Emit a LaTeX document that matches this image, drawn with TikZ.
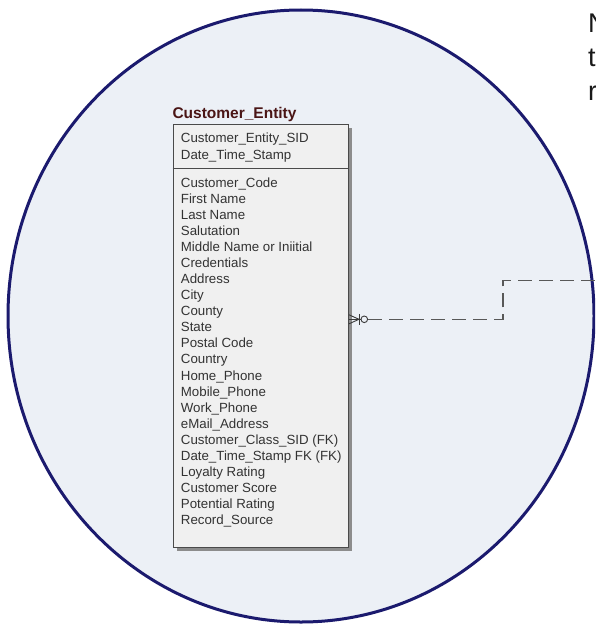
\documentclass[tikz,border=0pt]{standalone}
\usepackage{fontspec}
\setmainfont{Liberation Sans}
\usetikzlibrary{shadows}
\definecolor{bgblue}{HTML}{ECF0F6}
\definecolor{ringblue}{HTML}{1B1A6E}
\definecolor{boxfill}{HTML}{F0F0F0}
\definecolor{boxline}{HTML}{4A4A4A}
\definecolor{titlered}{HTML}{4A1515}
\definecolor{txtgray}{HTML}{333333}
\definecolor{linkgray}{HTML}{585858}
\definecolor{symgray}{HTML}{3A3A3A}
\begin{document}
\begin{tikzpicture}[x=1pt,y=-1pt,
  rowtext/.style={anchor=base west,inner sep=0pt,text=txtgray,font=\fontsize{13.3}{16}\selectfont},
  titletext/.style={anchor=base west,inner sep=0pt,text=titlered,font=\bfseries\fontsize{15.5}{18}\selectfont},
  sidetext/.style={anchor=base west,inner sep=0pt,text=black!90,font=\fontsize{27}{32}\selectfont},
  entbox/.style={draw=boxline,line width=0.9pt,fill=boxfill,anchor=north west,
    minimum width=175.5pt,minimum height=423.5pt,inner sep=0pt,
    drop shadow={shadow xshift=4pt,shadow yshift=-4pt,fill=black!45,opacity=1}},
  symline/.style={draw=symgray,line width=0.9pt},
  linkline/.style={draw=linkgray,line width=1.1pt,dash pattern=on 14pt off 7pt}
]
\useasboundingbox (0,0) rectangle (595,626);
\clip (0,0) rectangle (595,626);
\fill[white] (0,0) rectangle (595,626);
% background disc
\draw[ringblue,line width=3pt,fill=bgblue] (301,316) ellipse [x radius=293,y radius=306];
% cut-off text at the right edge
\node[sidetext] (s1) at (588,33) {N};
\node[sidetext] (s2) at (588,66.5) {t};
\node[sidetext] (s3) at (588,100) {r};
% entity
\node[titletext] (title) at (172.3,118.5) {Customer\_Entity};
\node[entbox] (ent) at (172.5,123.5) {};
\coordinate (dv) at (0,168.5);
\draw[boxline,line width=0.9pt] (ent.west |- dv) -- (ent.east |- dv);
\node[rowtext] (k1) at (180.7,142.7) {Customer\_Entity\_SID};
\node[rowtext] (k2) at (180.7,159.1) {Date\_Time\_Stamp};
\foreach \t [count=\i from 0] in {Customer\_Code,First Name,Last Name,Salutation,
  Middle Name or Iniitial,Credentials,Address,City,County,State,Postal Code,Country,
  Home\_Phone,Mobile\_Phone,Work\_Phone,eMail\_Address,Customer\_Class\_SID (FK),
  Date\_Time\_Stamp FK (FK),Loyalty Rating,Customer Score,Potential Rating,Record\_Source}
  {\node[rowtext] (a\i) at (180.7,{187+16.09*\i}) {\t};}
% relationship end symbol (zero or many)
\coordinate (ly) at (0,319.3);
\coordinate (cfjoin) at (359,319.3);
\draw[symline] (349,314.8) -- (cfjoin) -- (349,323.8);
\draw[symline] (ent.east |- ly) -- (360.5,319.3);
\draw[symline] (359,313.8) -- (359,324.8);
\node[draw=symgray,line width=0.9pt,circle,minimum size=6.6pt,inner sep=0pt] (zc) at (364.3,319.3) {};
% relationship line
\coordinate (bend) at (503,280.7);
\coordinate (far) at (600,280.7);
\draw[linkline] (zc.east) -| (bend) -- (far);
\end{tikzpicture}
\end{document}
